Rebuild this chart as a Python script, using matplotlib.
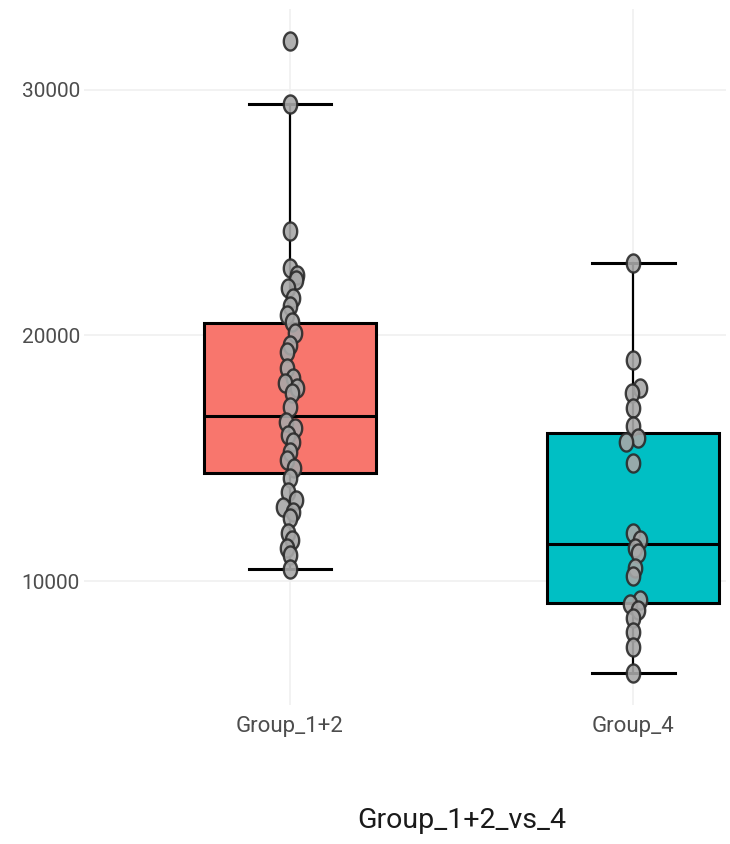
import matplotlib
matplotlib.use("Agg")
import matplotlib.pyplot as plt
from matplotlib.path import Path
import numpy as np

plt.rcParams['font.family'] = ['Roboto', 'DejaVu Sans']

groups = ["Group_1+2", "Group_4"]
box_colors = ["#F8766D", "#00BFC4"]

# box statistics
whislo = [10490, 6250]
q1 = [14400, 9100]
med = [16720, 11510]
q3 = [20510, 16030]
whishi = [29430, 22950]

# individual samples (jittered points)
values_g12 = [32000, 29430, 24260, 22750, 22460, 22260, 21930, 21530, 21200,
              20830, 20550, 20100, 19610, 19330, 18680, 18270, 18060, 17860,
              17660, 17090, 16480, 16230, 15950, 15660, 15250, 14930, 14600,
              14200, 13630, 13300, 13010, 12810, 12570, 11960, 11670, 11340,
              11060, 10490]
jitter_g12 = [0.0, 0.0, 0.0, 0.0, 0.02, 0.018, -0.005, 0.01, 0.0,
              -0.01, 0.005, 0.015, 0.0, -0.008, -0.01, 0.01, -0.015, 0.02,
              0.005, 0.0, -0.012, 0.015, -0.005, 0.01, 0.0, -0.01, 0.012,
              0.0, -0.005, 0.018, -0.02, 0.01, 0.0, -0.005, 0.005, -0.01,
              0.0, 0.0]
values_g4 = [22950, 19000, 17860, 17660, 17050, 16310, 15820, 15660, 14810,
             11960, 11670, 11340, 11140, 10530, 10200, 9230, 9060, 8820,
             8490, 7920, 7310, 6250]
jitter_g4 = [0.0, 0.0, 0.02, -0.005, 0.0, 0.0, 0.015, -0.02, 0.0,
             0.0, 0.02, 0.005, 0.015, 0.005, 0.0, 0.02, -0.01, 0.015,
             0.0, 0.0, 0.0, 0.0]

fig = plt.figure(figsize=(7.3, 8.44), dpi=100)
ax = fig.add_axes([84 / 730, 139 / 844, 642 / 730, 696 / 844])

stats = []
for i in range(len(groups)):
    stats.append(dict(label=groups[i], whislo=whislo[i], q1=q1[i], med=med[i],
                      q3=q3[i], whishi=whishi[i], fliers=[]))

bp = ax.bxp(stats, positions=[1, 2], widths=0.5, patch_artist=True,
            showfliers=False, capwidths=0.24,
            boxprops=dict(edgecolor="black", linewidth=2.2),
            medianprops=dict(color="black", linewidth=2.2),
            whiskerprops=dict(color="black", linewidth=1.6),
            capprops=dict(color="black", linewidth=2.2))
for patch, c in zip(bp["boxes"], box_colors):
    patch.set_facecolor(c)
for art in bp["boxes"] + bp["medians"] + bp["whiskers"] + bp["caps"]:
    art.set_zorder(2)

# slightly tall ellipse marker like the reference
t = np.linspace(0, 2 * np.pi, 40)
ell = Path(np.column_stack([0.74 * np.cos(t), np.sin(t)]), closed=True)

for pos, vals, jit in [(1, values_g12, jitter_g12), (2, values_g4, jitter_g4)]:
    xs = [pos + j for j in jit]
    ax.scatter(xs, vals, marker=ell, s=170, facecolor="#A8A8A8",
               edgecolor="#2a2a2a", linewidth=1.7, alpha=0.9, zorder=3)

ax.set_xlim(0.4, 2.27)
ax.set_ylim(4963, 33287)
ax.set_xticks([1, 2])
ax.set_xticklabels(groups)
ax.set_yticks([10000, 20000, 30000])
ax.set_yticklabels(["10000", "20000", "30000"])
ax.tick_params(length=0, labelcolor="#4d4d4d")
ax.tick_params(axis="y", pad=3, labelsize=15)
ax.tick_params(axis="x", pad=8, labelsize=16)
ax.grid(True, color="#F0F0F0", linewidth=1.2, zorder=0)
ax.set_axisbelow(True)
for s in ax.spines.values():
    s.set_visible(False)

fig.text(462 / 730, 16 / 844, "Group_1+2_vs_4", ha="center", va="baseline",
         fontsize=20.5, color="#1a1a1a")

fig.savefig("out.png", dpi=100)
